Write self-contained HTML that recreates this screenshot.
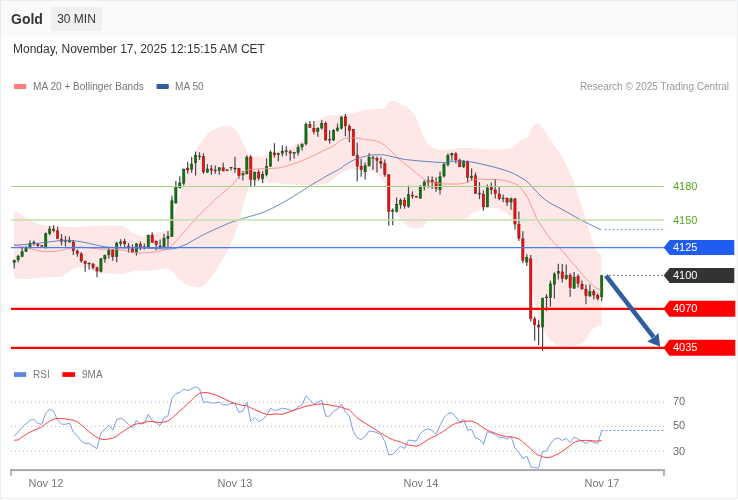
<!DOCTYPE html>
<html>
<head>
<meta charset="utf-8">
<title>Gold 30 MIN</title>
<style>
html,body{margin:0;padding:0;background:#fff;}
body{width:738px;height:500px;overflow:hidden;position:relative;font-family:"Liberation Sans",sans-serif;}
#card{position:absolute;left:0;top:0;width:736px;height:497px;border:1px solid #e9edf0;background:#fff;}
#hdr{position:absolute;left:1px;top:1px;width:736px;height:35px;background:#fafafa;}
#ttl{position:absolute;left:11px;top:10px;font-size:14px;font-weight:bold;color:#333;line-height:18px;}
#tf{position:absolute;left:51px;top:7px;width:51px;height:24px;background:#f0f0f1;border-radius:2px;font-size:12px;color:#333;line-height:24px;text-align:center;}
#dt{position:absolute;left:13px;top:42px;font-size:12px;color:#333;line-height:15px;}
svg{position:absolute;left:0;top:0;}
svg text{font-family:"Liberation Sans",sans-serif;}
</style>
</head>
<body>
<div id="card"></div>
<div id="hdr"></div>
<div id="ttl">Gold</div>
<div id="tf">30 MIN</div>
<div id="dt">Monday, November 17, 2025 12:15:15 AM CET</div>
<svg width="738" height="500" viewBox="0 0 738 500">
<polygon fill="#fee7e7" points="14,211.2 15.5,211.84 17.01,212.52 18.51,213.24 20.01,214.01 21.52,214.84 23.02,215.75 24.52,216.7 26.02,217.63 27.53,218.52 29.03,219.38 30.53,220.24 32.04,221.08 33.54,221.85 35.04,222.52 36.55,223.13 38.05,223.7 39.55,224.23 41.06,224.67 42.56,225.01 44.06,225.28 45.56,225.52 47.07,225.72 48.57,225.88 50.07,226 51.58,226.1 53.08,226.17 54.58,226.24 56.09,226.29 57.59,226.34 59.09,226.39 60.6,226.45 62.1,226.5 63.6,226.57 65.1,226.64 66.61,226.72 68.11,226.8 69.61,226.87 71.12,226.93 72.62,226.97 74.12,227 75.63,227 77.13,226.98 78.63,226.93 80.14,226.87 81.64,226.8 83.14,226.72 84.64,226.63 86.15,226.55 87.65,226.46 89.15,226.35 90.66,226.21 92.16,226.05 93.66,225.9 95.17,225.75 96.67,225.63 98.17,225.54 99.67,225.5 101.18,225.5 102.68,225.51 104.18,225.53 105.69,225.55 107.19,225.56 108.69,225.58 110.2,225.59 111.7,225.6 113.2,225.59 114.71,225.55 116.21,225.49 117.71,225.44 119.21,225.41 120.72,225.47 122.22,225.97 123.72,226.67 125.23,227.48 126.73,228.53 128.23,229.7 129.74,230.82 131.24,231.86 132.74,232.78 134.25,233.54 135.75,234.2 137.25,234.73 138.75,235.15 140.26,235.53 141.76,235.81 143.26,235.9 144.77,235.72 146.27,235.36 147.77,234.96 149.28,234.55 150.78,234.06 152.28,233.56 153.79,233.1 155.29,232.74 156.79,232.46 158.29,232.21 159.8,231.98 161.3,231.79 162.8,231.61 164.31,231.46 165.81,231.34 167.31,231.25 168.82,231.14 170.32,230.94 171.82,229.63 173.33,219.98 174.83,213.52 176.33,208.18 177.83,203.13 179.34,196.92 180.84,191.21 182.34,186.83 183.85,181.75 185.35,176.05 186.85,170.4 188.36,165.93 189.86,162.82 191.36,160.2 192.87,157.47 194.37,154.31 195.87,151.24 197.37,148.52 198.88,145.95 200.38,143.55 201.88,141.34 203.39,139.32 204.89,137.37 206.39,135.53 207.9,133.88 209.4,132.48 210.9,131.34 212.41,130.33 213.91,129.42 215.41,128.65 216.91,128.01 218.42,127.49 219.92,126.99 221.42,126.54 222.93,126.2 224.43,126.02 225.93,126.01 227.44,126.05 228.94,126.13 230.44,126.27 231.95,126.92 233.45,128.03 234.95,129.36 236.45,131.04 237.96,133.29 239.46,135.85 240.96,138.66 242.47,142.02 243.97,145.43 245.47,148.39 246.98,151.21 248.48,153.48 249.98,154.78 251.48,155.7 252.99,156.06 254.49,156.23 255.99,156.36 257.5,156.44 259,156.49 260.5,156.49 262.01,156.34 263.51,156.06 265.01,155.68 266.52,155.27 268.02,154.85 269.52,154.31 271.02,153.67 272.53,153 274.03,152.36 275.53,151.82 277.04,151.34 278.54,150.91 280.04,150.49 281.55,150.06 283.05,149.63 284.55,149.15 286.06,148.64 287.56,148.11 289.06,147.56 290.56,146.98 292.07,146.36 293.57,145.69 295.07,144.96 296.58,144.18 298.08,143.32 299.58,142.34 301.09,141.22 302.59,139.92 304.09,138.1 305.6,135.86 307.1,133.61 308.6,131.24 310.1,128.85 311.61,126.59 313.11,124.29 314.61,122.37 316.12,121.08 317.62,119.99 319.12,119.06 320.63,118.29 322.13,117.64 323.63,117.1 325.14,116.61 326.64,116.18 328.14,115.83 329.64,115.55 331.15,115.36 332.65,115.21 334.15,115.08 335.66,114.94 337.16,114.82 338.66,114.71 340.17,114.61 341.67,114.51 343.17,114.4 344.68,114.29 346.18,114.17 347.68,114.02 349.18,113.85 350.69,113.64 352.19,113.31 353.69,112.87 355.2,112.39 356.7,111.89 358.2,111.43 359.71,111.06 361.21,110.78 362.71,110.53 364.22,110.3 365.72,110.09 367.22,109.88 368.72,109.68 370.23,109.47 371.73,109.23 373.23,109 374.74,108.82 376.24,108.73 377.74,108.67 379.25,108.63 380.75,108.58 382.25,108.5 383.75,108.33 385.26,107.44 386.76,105.67 388.26,103.34 389.77,102.01 391.27,101.42 392.77,101.11 394.28,101 395.78,101.32 397.28,101.96 398.79,102.78 400.29,103.9 401.79,104.78 403.29,105.32 404.8,105.8 406.3,106.45 407.8,107.49 409.31,108.85 410.81,110.4 412.31,112.15 413.82,114.23 415.32,116.52 416.82,119.23 418.33,123.15 419.83,127.27 421.33,130.83 422.83,134.23 424.34,137.79 425.84,141.14 427.34,143.36 428.85,144.93 430.35,146.1 431.85,147.01 433.36,147.74 434.86,148.35 436.36,148.91 437.87,149.44 439.37,149.76 440.87,149.8 442.37,149.78 443.88,149.75 445.38,149.7 446.88,149.64 448.39,149.58 449.89,149.51 451.39,149.37 452.9,149.12 454.4,148.82 455.9,148.5 457.41,148.23 458.91,148.04 460.41,148 461.91,148 463.42,148 464.92,148 466.42,148 467.93,148 469.43,148 470.93,148.01 472.44,148.08 473.94,148.19 475.44,148.33 476.95,148.49 478.45,148.65 479.95,148.81 481.45,148.93 482.96,149.02 484.46,149.11 485.96,149.19 487.47,149.27 488.97,149.34 490.47,149.41 491.98,149.46 493.48,149.49 494.98,149.5 496.49,149.5 497.99,149.5 499.49,149.5 500.99,149.5 502.5,149.5 504,149.44 505.5,149.27 507.01,149.02 508.51,148.68 510.01,148.29 511.52,147.81 513.02,146.91 514.52,145.7 516.03,144.48 517.53,143.14 519.03,141.63 520.53,140.21 522.04,139.19 523.54,138.73 525.04,138.51 526.55,138.17 528.05,136.26 529.55,131.96 531.06,129.23 532.56,127.05 534.06,125.45 535.56,124.15 537.07,123.2 538.57,123.14 540.07,124.56 541.58,126.73 543.08,128.75 544.58,130.85 546.09,133.11 547.59,135.41 549.09,137.63 550.6,139.77 552.1,141.87 553.6,143.99 555.1,146.15 556.61,148.32 558.11,150.49 559.61,152.76 561.12,155.2 562.62,157.84 564.12,160.67 565.63,163.64 567.13,166.72 568.63,169.9 570.14,173.19 571.64,176.63 573.14,180.29 574.64,184.25 576.15,188.68 577.65,193.35 579.15,197.96 580.66,202.37 582.16,206.78 583.66,211.41 585.17,216.51 586.67,221.98 588.17,227.5 589.68,233 591.18,237.04 592.68,240.74 594.18,244.82 595.69,248.57 597.19,251.26 598.69,253.08 600.2,254.4 601.7,255.2 601.7,325 600.2,325.18 598.69,325.6 597.19,326.16 595.69,326.85 594.18,327.91 592.68,329.24 591.18,330.82 589.68,332.89 588.17,335.51 586.67,338.55 585.17,340.64 583.66,342.2 582.16,343.21 580.66,344 579.15,344.56 577.65,344.97 576.15,345.35 574.64,345.67 573.14,345.89 571.64,346 570.14,346 568.63,346 567.13,346 565.63,346 564.12,346 562.62,346 561.12,345.87 559.61,345.51 558.11,345 556.61,344.45 555.1,343.74 553.6,342.84 552.1,341.77 550.6,340.5 549.09,338.86 547.59,336.95 546.09,334.78 544.58,332.24 543.08,330.03 541.58,328.12 540.07,324.92 538.57,319.66 537.07,313.48 535.56,307.73 534.06,298.37 532.56,291.06 531.06,275.69 529.55,265.48 528.05,260.44 526.55,256.54 525.04,252.23 523.54,248.02 522.04,243.58 520.53,238.71 519.03,234.09 517.53,229.97 516.03,226.2 514.52,223.07 513.02,220.27 511.52,217.84 510.01,216.01 508.51,214.68 507.01,213.56 505.5,212.61 504,211.77 502.5,211 500.99,210.2 499.49,209.4 497.99,208.69 496.49,208.19 494.98,208 493.48,208.05 491.98,208.17 490.47,208.34 488.97,208.55 487.47,208.75 485.96,208.98 484.46,209.25 482.96,209.56 481.45,209.9 479.95,210.29 478.45,210.71 476.95,211.18 475.44,211.74 473.94,212.4 472.44,213.16 470.93,214.04 469.43,215.46 467.93,217.3 466.42,218.88 464.92,219.5 463.42,219.5 461.91,219.5 460.41,219.5 458.91,219.5 457.41,219.5 455.9,219.5 454.4,219.5 452.9,219.5 451.39,219.5 449.89,219.5 448.39,219.5 446.88,219.5 445.38,219.5 443.88,219.5 442.37,219.5 440.87,219.5 439.37,219.5 437.87,219.52 436.36,219.57 434.86,219.64 433.36,219.74 431.85,219.88 430.35,220.05 428.85,220.32 427.34,221.84 425.84,223.77 424.34,225.13 422.83,226.39 421.33,227.37 419.83,227.96 418.33,228.45 416.82,228.75 415.32,228.76 413.82,228.47 412.31,228 410.81,227.45 409.31,226.74 407.8,225.82 406.3,224.73 404.8,223.5 403.29,222.12 401.79,220.39 400.29,218.37 398.79,216.18 397.28,213.77 395.78,211.08 394.28,208.15 392.77,204.82 391.27,201.17 389.77,197.3 388.26,193.18 386.76,189.31 385.26,185.62 383.75,182.31 382.25,179.41 380.75,176.93 379.25,175.26 377.74,174.14 376.24,173.31 374.74,172.57 373.23,171.93 371.73,171.41 370.23,171.04 368.72,170.79 367.22,170.58 365.72,170.41 364.22,170.26 362.71,170.13 361.21,170.02 359.71,169.9 358.2,169.78 356.7,169.67 355.2,169.57 353.69,169.52 352.19,169.5 350.69,169.62 349.18,169.88 347.68,170.23 346.18,170.65 344.68,171.1 343.17,171.75 341.67,172.61 340.17,173.64 338.66,174.76 337.16,175.91 335.66,177.04 334.15,178.13 332.65,179.39 331.15,180.69 329.64,181.87 328.14,182.75 326.64,183.25 325.14,183.61 323.63,183.9 322.13,184.15 320.63,184.39 319.12,184.67 317.62,184.99 316.12,185.31 314.61,185.58 313.11,185.76 311.61,185.8 310.1,185.76 308.6,185.69 307.1,185.6 305.6,185.5 304.09,185.41 302.59,185.31 301.09,185.22 299.58,185.11 298.08,185 296.58,184.89 295.07,184.77 293.57,184.65 292.07,184.52 290.56,184.4 289.06,184.27 287.56,184.14 286.06,184 284.55,183.87 283.05,183.72 281.55,183.56 280.04,183.39 278.54,183.22 277.04,183.05 275.53,182.89 274.03,182.73 272.53,182.58 271.02,182.43 269.52,182.31 268.02,182.2 266.52,182.1 265.01,182 263.51,181.9 262.01,181.8 260.5,181.72 259,181.66 257.5,181.62 255.99,181.6 254.49,181.76 252.99,182.19 251.48,182.99 249.98,185.3 248.48,188.49 246.98,192.64 245.47,197.39 243.97,202.66 242.47,208.47 240.96,214.76 239.46,220.23 237.96,224.97 236.45,229.33 234.95,233.48 233.45,237.45 231.95,241.2 230.44,244.71 228.94,247.98 227.44,251.07 225.93,253.99 224.43,256.75 222.93,259.31 221.42,261.7 219.92,264.02 218.42,266.37 216.91,268.84 215.41,271.35 213.91,273.78 212.41,275.99 210.9,278.02 209.4,279.94 207.9,281.69 206.39,283.21 204.89,284.6 203.39,285.85 201.88,286.7 200.38,287.15 198.88,287.44 197.37,287.48 195.87,287.27 194.37,286.93 192.87,286.52 191.36,286.14 189.86,285.75 188.36,285.3 186.85,284.76 185.35,284.07 183.85,283.04 182.34,281.79 180.84,280.48 179.34,279.04 177.83,277.48 176.33,275.93 174.83,274.34 173.33,272.75 171.82,271.37 170.32,270.17 168.82,269.04 167.31,268.36 165.81,268.33 164.31,268.5 162.8,268.74 161.3,269.02 159.8,269.27 158.29,269.51 156.79,269.79 155.29,270.08 153.79,270.35 152.28,270.56 150.78,270.68 149.28,270.7 147.77,270.67 146.27,270.64 144.77,270.59 143.26,270.55 141.76,270.52 140.26,270.5 138.75,270.54 137.25,270.68 135.75,270.9 134.25,271.18 132.74,271.48 131.24,271.77 129.74,272.05 128.23,272.37 126.73,272.76 125.23,273.16 123.72,273.52 122.22,273.81 120.72,273.98 119.21,273.99 117.71,273.96 116.21,273.9 114.71,273.81 113.2,273.72 111.7,273.61 110.2,273.51 108.69,273.42 107.19,273.32 105.69,273.21 104.18,273.09 102.68,272.94 101.18,272.77 99.67,272.54 98.17,272.13 96.67,271.53 95.17,270.88 93.66,270.27 92.16,269.57 90.66,268.85 89.15,268.26 87.65,267.95 86.15,267.78 84.64,267.62 83.14,267.51 81.64,267.43 80.14,267.4 78.63,267.5 77.13,267.81 75.63,268.25 74.12,268.76 72.62,269.47 71.12,270.47 69.61,271.44 68.11,272.34 66.61,273.27 65.1,274.27 63.6,275.64 62.1,276.77 60.6,276.96 59.09,277.03 57.59,277.07 56.09,277.1 54.58,277.13 53.08,277.16 51.58,277.22 50.07,277.28 48.57,277.34 47.07,277.41 45.56,277.48 44.06,277.56 42.56,277.64 41.06,277.73 39.55,277.83 38.05,277.98 36.55,278.16 35.04,278.36 33.54,278.56 32.04,278.74 30.53,278.89 29.03,278.98 27.53,279 26.02,279 24.52,278.99 23.02,278.96 21.52,278.93 20.01,278.87 18.51,278.79 17.01,278.69 15.5,278.56 14,278.4"/>
<g id="candles">
<line x1="14.2" x2="14.2" y1="259.4" y2="268.6" stroke="#4c4848" stroke-width="1.2"/>
<rect x="13.1" y="260.4" width="2.2" height="2.3" fill="#0b7a0b" stroke="#1c4a1c" stroke-width="0.6"/>
<line x1="18.14" x2="18.14" y1="254.8" y2="262.3" stroke="#4c4848" stroke-width="1.2"/>
<rect x="17.04" y="256.6" width="2.2" height="3.2" fill="#0b7a0b" stroke="#1c4a1c" stroke-width="0.6"/>
<line x1="22.09" x2="22.09" y1="247.6" y2="257.2" stroke="#4c4848" stroke-width="1.2"/>
<rect x="20.99" y="251.7" width="2.2" height="4.7" fill="#0b7a0b" stroke="#1c4a1c" stroke-width="0.6"/>
<line x1="26.03" x2="26.03" y1="245.8" y2="251.8" stroke="#4c4848" stroke-width="1.2"/>
<rect x="24.93" y="248.4" width="2.2" height="2.9" fill="#0b7a0b" stroke="#1c4a1c" stroke-width="0.6"/>
<line x1="29.97" x2="29.97" y1="240.4" y2="248.6" stroke="#4c4848" stroke-width="1.2"/>
<rect x="28.87" y="243.6" width="2.2" height="4.1" fill="#0b7a0b" stroke="#1c4a1c" stroke-width="0.6"/>
<line x1="33.91" x2="33.91" y1="240.6" y2="245.8" stroke="#4c4848" stroke-width="1.2"/>
<rect x="32.81" y="242.2" width="2.2" height="1.2" fill="#0b7a0b" stroke="#1c4a1c" stroke-width="0.6"/>
<line x1="37.86" x2="37.86" y1="243.2" y2="247" stroke="#4c4848" stroke-width="1.2"/>
<rect x="36.76" y="244.2" width="2.2" height="1.2" fill="#f01010" stroke="#8a1212" stroke-width="0.6"/>
<line x1="41.8" x2="41.8" y1="245.2" y2="246.6" stroke="#4c4848" stroke-width="1.2"/>
<rect x="40.7" y="245.6" width="2.2" height="0.6" fill="#f01010" stroke="#8a1212" stroke-width="0.6"/>
<line x1="45.74" x2="45.74" y1="232.6" y2="248.6" stroke="#4c4848" stroke-width="1.2"/>
<rect x="44.64" y="233.8" width="2.2" height="13.9" fill="#0b7a0b" stroke="#1c4a1c" stroke-width="0.6"/>
<line x1="49.69" x2="49.69" y1="226" y2="235.6" stroke="#4c4848" stroke-width="1.2"/>
<rect x="48.59" y="229" width="2.2" height="4.6" fill="#0b7a0b" stroke="#1c4a1c" stroke-width="0.6"/>
<line x1="53.63" x2="53.63" y1="225.2" y2="232.6" stroke="#4c4848" stroke-width="1.2"/>
<rect x="52.53" y="229.2" width="2.2" height="1.2" fill="#f01010" stroke="#8a1212" stroke-width="0.6"/>
<line x1="57.57" x2="57.57" y1="226.6" y2="239" stroke="#4c4848" stroke-width="1.2"/>
<rect x="56.47" y="230.8" width="2.2" height="7.6" fill="#f01010" stroke="#8a1212" stroke-width="0.6"/>
<line x1="61.52" x2="61.52" y1="234" y2="245.4" stroke="#4c4848" stroke-width="1.2"/>
<rect x="60.42" y="239.2" width="2.2" height="2.4" fill="#f01010" stroke="#8a1212" stroke-width="0.6"/>
<line x1="65.46" x2="65.46" y1="236" y2="246.6" stroke="#4c4848" stroke-width="1.2"/>
<rect x="63.96" y="240.4" width="3" height="1.2" fill="#3c3c3c"/>
<line x1="69.4" x2="69.4" y1="236.4" y2="242.6" stroke="#4c4848" stroke-width="1.2"/>
<rect x="68.3" y="240.2" width="2.2" height="1.8" fill="#0b7a0b" stroke="#1c4a1c" stroke-width="0.6"/>
<line x1="73.34" x2="73.34" y1="240" y2="255" stroke="#4c4848" stroke-width="1.2"/>
<rect x="72.25" y="242" width="2.2" height="8.6" fill="#f01010" stroke="#8a1212" stroke-width="0.6"/>
<line x1="77.29" x2="77.29" y1="249.4" y2="256.8" stroke="#4c4848" stroke-width="1.2"/>
<rect x="76.19" y="251" width="2.2" height="2.6" fill="#f01010" stroke="#8a1212" stroke-width="0.6"/>
<line x1="81.23" x2="81.23" y1="252" y2="262.8" stroke="#4c4848" stroke-width="1.2"/>
<rect x="80.13" y="254" width="2.2" height="6.8" fill="#f01010" stroke="#8a1212" stroke-width="0.6"/>
<line x1="85.17" x2="85.17" y1="260.4" y2="271.8" stroke="#4c4848" stroke-width="1.2"/>
<rect x="84.07" y="261.6" width="2.2" height="1.9" fill="#f01010" stroke="#8a1212" stroke-width="0.6"/>
<line x1="89.12" x2="89.12" y1="262.2" y2="269.4" stroke="#4c4848" stroke-width="1.2"/>
<rect x="87.62" y="263" width="3" height="1.2" fill="#3c3c3c"/>
<line x1="93.06" x2="93.06" y1="263" y2="269.7" stroke="#4c4848" stroke-width="1.2"/>
<rect x="91.96" y="264.2" width="2.2" height="3.2" fill="#f01010" stroke="#8a1212" stroke-width="0.6"/>
<line x1="97" x2="97" y1="266.7" y2="277.2" stroke="#4c4848" stroke-width="1.2"/>
<rect x="95.9" y="267.8" width="2.2" height="3.2" fill="#f01010" stroke="#8a1212" stroke-width="0.6"/>
<line x1="100.95" x2="100.95" y1="258" y2="272.4" stroke="#4c4848" stroke-width="1.2"/>
<rect x="99.85" y="258.8" width="2.2" height="12.5" fill="#0b7a0b" stroke="#1c4a1c" stroke-width="0.6"/>
<line x1="104.89" x2="104.89" y1="254.4" y2="262.6" stroke="#4c4848" stroke-width="1.2"/>
<rect x="103.79" y="255.6" width="2.2" height="3.2" fill="#0b7a0b" stroke="#1c4a1c" stroke-width="0.6"/>
<line x1="108.83" x2="108.83" y1="247.8" y2="258.6" stroke="#4c4848" stroke-width="1.2"/>
<rect x="107.73" y="250.6" width="2.2" height="4.2" fill="#0b7a0b" stroke="#1c4a1c" stroke-width="0.6"/>
<line x1="112.78" x2="112.78" y1="249" y2="260.7" stroke="#4c4848" stroke-width="1.2"/>
<rect x="111.68" y="250" width="2.2" height="6.6" fill="#f01010" stroke="#8a1212" stroke-width="0.6"/>
<line x1="116.72" x2="116.72" y1="241.8" y2="262.2" stroke="#4c4848" stroke-width="1.2"/>
<rect x="115.62" y="243.6" width="2.2" height="13" fill="#0b7a0b" stroke="#1c4a1c" stroke-width="0.6"/>
<line x1="120.66" x2="120.66" y1="239.2" y2="246.6" stroke="#4c4848" stroke-width="1.2"/>
<rect x="119.56" y="242" width="2.2" height="1.2" fill="#0b7a0b" stroke="#1c4a1c" stroke-width="0.6"/>
<line x1="124.6" x2="124.6" y1="238.8" y2="248.4" stroke="#4c4848" stroke-width="1.2"/>
<rect x="123.5" y="241.4" width="2.2" height="2.4" fill="#f01010" stroke="#8a1212" stroke-width="0.6"/>
<line x1="128.55" x2="128.55" y1="243" y2="252.6" stroke="#4c4848" stroke-width="1.2"/>
<rect x="127.45" y="246.2" width="2.2" height="1.2" fill="#f01010" stroke="#8a1212" stroke-width="0.6"/>
<line x1="132.49" x2="132.49" y1="244.2" y2="252.6" stroke="#4c4848" stroke-width="1.2"/>
<rect x="131.39" y="249" width="2.2" height="3.1" fill="#f01010" stroke="#8a1212" stroke-width="0.6"/>
<line x1="136.43" x2="136.43" y1="243" y2="255.6" stroke="#4c4848" stroke-width="1.2"/>
<rect x="135.33" y="243.8" width="2.2" height="8.3" fill="#0b7a0b" stroke="#1c4a1c" stroke-width="0.6"/>
<line x1="140.38" x2="140.38" y1="241.5" y2="250.2" stroke="#4c4848" stroke-width="1.2"/>
<rect x="139.28" y="244.2" width="2.2" height="2.8" fill="#f01010" stroke="#8a1212" stroke-width="0.6"/>
<line x1="144.32" x2="144.32" y1="243.6" y2="249.6" stroke="#4c4848" stroke-width="1.2"/>
<rect x="142.82" y="246.5" width="3" height="1.2" fill="#3c3c3c"/>
<line x1="148.26" x2="148.26" y1="234.6" y2="247.6" stroke="#4c4848" stroke-width="1.2"/>
<rect x="147.16" y="235.4" width="2.2" height="11.6" fill="#0b7a0b" stroke="#1c4a1c" stroke-width="0.6"/>
<line x1="152.2" x2="152.2" y1="232.2" y2="242.8" stroke="#4c4848" stroke-width="1.2"/>
<rect x="151.1" y="235.2" width="2.2" height="7" fill="#f01010" stroke="#8a1212" stroke-width="0.6"/>
<line x1="156.15" x2="156.15" y1="240.6" y2="250.2" stroke="#4c4848" stroke-width="1.2"/>
<rect x="155.05" y="241.4" width="2.2" height="3.2" fill="#f01010" stroke="#8a1212" stroke-width="0.6"/>
<line x1="160.09" x2="160.09" y1="239.4" y2="249" stroke="#4c4848" stroke-width="1.2"/>
<rect x="158.59" y="245.8" width="3" height="1.2" fill="#3c3c3c"/>
<line x1="164.03" x2="164.03" y1="233.8" y2="247.8" stroke="#4c4848" stroke-width="1.2"/>
<rect x="162.93" y="238.2" width="2.2" height="8.8" fill="#0b7a0b" stroke="#1c4a1c" stroke-width="0.6"/>
<line x1="167.98" x2="167.98" y1="231" y2="248.4" stroke="#4c4848" stroke-width="1.2"/>
<rect x="166.88" y="236.4" width="2.2" height="2" fill="#0b7a0b" stroke="#1c4a1c" stroke-width="0.6"/>
<line x1="171.92" x2="171.92" y1="195.4" y2="237" stroke="#4c4848" stroke-width="1.2"/>
<rect x="170.82" y="200.7" width="2.2" height="35.7" fill="#0b7a0b" stroke="#1c4a1c" stroke-width="0.6"/>
<line x1="175.86" x2="175.86" y1="181" y2="203.8" stroke="#4c4848" stroke-width="1.2"/>
<rect x="174.76" y="186.4" width="2.2" height="16.6" fill="#0b7a0b" stroke="#1c4a1c" stroke-width="0.6"/>
<line x1="179.81" x2="179.81" y1="176.2" y2="188.5" stroke="#4c4848" stroke-width="1.2"/>
<rect x="178.71" y="182.8" width="2.2" height="5" fill="#0b7a0b" stroke="#1c4a1c" stroke-width="0.6"/>
<line x1="183.75" x2="183.75" y1="168.4" y2="185.2" stroke="#4c4848" stroke-width="1.2"/>
<rect x="182.65" y="169.2" width="2.2" height="14" fill="#0b7a0b" stroke="#1c4a1c" stroke-width="0.6"/>
<line x1="187.69" x2="187.69" y1="161.8" y2="173.8" stroke="#4c4848" stroke-width="1.2"/>
<rect x="186.59" y="168.6" width="2.2" height="1.4" fill="#f01010" stroke="#8a1212" stroke-width="0.6"/>
<line x1="191.63" x2="191.63" y1="157" y2="172.8" stroke="#4c4848" stroke-width="1.2"/>
<rect x="190.53" y="164.2" width="2.2" height="5" fill="#0b7a0b" stroke="#1c4a1c" stroke-width="0.6"/>
<line x1="195.58" x2="195.58" y1="151.6" y2="175.6" stroke="#4c4848" stroke-width="1.2"/>
<rect x="194.48" y="155.2" width="2.2" height="7.6" fill="#0b7a0b" stroke="#1c4a1c" stroke-width="0.6"/>
<line x1="199.52" x2="199.52" y1="152.2" y2="160" stroke="#4c4848" stroke-width="1.2"/>
<rect x="198.02" y="155.8" width="3" height="1.2" fill="#3c3c3c"/>
<line x1="203.46" x2="203.46" y1="153.2" y2="173.8" stroke="#4c4848" stroke-width="1.2"/>
<rect x="202.36" y="156.6" width="2.2" height="15.2" fill="#f01010" stroke="#8a1212" stroke-width="0.6"/>
<line x1="207.41" x2="207.41" y1="164.2" y2="172.8" stroke="#4c4848" stroke-width="1.2"/>
<rect x="206.31" y="169" width="2.2" height="3.2" fill="#0b7a0b" stroke="#1c4a1c" stroke-width="0.6"/>
<line x1="211.35" x2="211.35" y1="165" y2="175.1" stroke="#4c4848" stroke-width="1.2"/>
<rect x="210.25" y="168.9" width="2.2" height="1.3" fill="#f01010" stroke="#8a1212" stroke-width="0.6"/>
<line x1="215.29" x2="215.29" y1="165.6" y2="173.7" stroke="#4c4848" stroke-width="1.2"/>
<rect x="213.79" y="169.75" width="3" height="1.2" fill="#3c3c3c"/>
<line x1="219.24" x2="219.24" y1="167.2" y2="174.8" stroke="#4c4848" stroke-width="1.2"/>
<rect x="218.14" y="167.8" width="2.2" height="2.4" fill="#0b7a0b" stroke="#1c4a1c" stroke-width="0.6"/>
<line x1="223.18" x2="223.18" y1="162.4" y2="171.6" stroke="#4c4848" stroke-width="1.2"/>
<rect x="222.08" y="167.8" width="2.2" height="3" fill="#f01010" stroke="#8a1212" stroke-width="0.6"/>
<line x1="227.12" x2="227.12" y1="169.4" y2="171" stroke="#4c4848" stroke-width="1.2"/>
<rect x="226.02" y="169.8" width="2.2" height="0.8" fill="#f01010" stroke="#8a1212" stroke-width="0.6"/>
<line x1="231.06" x2="231.06" y1="167" y2="170.4" stroke="#4c4848" stroke-width="1.2"/>
<rect x="229.97" y="167.3" width="2.2" height="0.6" fill="#0b7a0b" stroke="#1c4a1c" stroke-width="0.6"/>
<line x1="235.01" x2="235.01" y1="156.8" y2="172.8" stroke="#4c4848" stroke-width="1.2"/>
<rect x="233.91" y="168.2" width="2.2" height="0.8" fill="#0b7a0b" stroke="#1c4a1c" stroke-width="0.6"/>
<line x1="238.95" x2="238.95" y1="168" y2="178.8" stroke="#4c4848" stroke-width="1.2"/>
<rect x="237.85" y="168.6" width="2.2" height="6.8" fill="#f01010" stroke="#8a1212" stroke-width="0.6"/>
<line x1="242.89" x2="242.89" y1="171" y2="180.6" stroke="#4c4848" stroke-width="1.2"/>
<rect x="241.79" y="173.6" width="2.2" height="1.4" fill="#0b7a0b" stroke="#1c4a1c" stroke-width="0.6"/>
<line x1="246.84" x2="246.84" y1="155.2" y2="174.4" stroke="#4c4848" stroke-width="1.2"/>
<rect x="245.74" y="157.2" width="2.2" height="16.6" fill="#0b7a0b" stroke="#1c4a1c" stroke-width="0.6"/>
<line x1="250.78" x2="250.78" y1="154.8" y2="187.2" stroke="#4c4848" stroke-width="1.2"/>
<rect x="249.68" y="157.2" width="2.2" height="22" fill="#f01010" stroke="#8a1212" stroke-width="0.6"/>
<line x1="254.72" x2="254.72" y1="171.6" y2="186.6" stroke="#4c4848" stroke-width="1.2"/>
<rect x="253.62" y="172.4" width="2.2" height="7" fill="#0b7a0b" stroke="#1c4a1c" stroke-width="0.6"/>
<line x1="258.67" x2="258.67" y1="169.8" y2="180.6" stroke="#4c4848" stroke-width="1.2"/>
<rect x="257.57" y="172.6" width="2.2" height="5.4" fill="#f01010" stroke="#8a1212" stroke-width="0.6"/>
<line x1="262.61" x2="262.61" y1="171" y2="183" stroke="#4c4848" stroke-width="1.2"/>
<rect x="261.51" y="174.6" width="2.2" height="4" fill="#0b7a0b" stroke="#1c4a1c" stroke-width="0.6"/>
<line x1="266.55" x2="266.55" y1="158.3" y2="176.4" stroke="#4c4848" stroke-width="1.2"/>
<rect x="265.45" y="166.5" width="2.2" height="7.8" fill="#0b7a0b" stroke="#1c4a1c" stroke-width="0.6"/>
<line x1="270.5" x2="270.5" y1="150.4" y2="166.8" stroke="#4c4848" stroke-width="1.2"/>
<rect x="269.39" y="152.2" width="2.2" height="14" fill="#0b7a0b" stroke="#1c4a1c" stroke-width="0.6"/>
<line x1="274.44" x2="274.44" y1="143.2" y2="157.6" stroke="#4c4848" stroke-width="1.2"/>
<rect x="273.34" y="153" width="2.2" height="1.8" fill="#f01010" stroke="#8a1212" stroke-width="0.6"/>
<line x1="278.38" x2="278.38" y1="152.8" y2="161.2" stroke="#4c4848" stroke-width="1.2"/>
<rect x="277.28" y="153.6" width="2.2" height="1" fill="#0b7a0b" stroke="#1c4a1c" stroke-width="0.6"/>
<line x1="282.32" x2="282.32" y1="145.2" y2="156.4" stroke="#4c4848" stroke-width="1.2"/>
<rect x="281.22" y="151.2" width="2.2" height="2" fill="#0b7a0b" stroke="#1c4a1c" stroke-width="0.6"/>
<line x1="286.27" x2="286.27" y1="146" y2="155.8" stroke="#4c4848" stroke-width="1.2"/>
<rect x="284.77" y="150.55" width="3" height="1.2" fill="#3c3c3c"/>
<line x1="290.21" x2="290.21" y1="150" y2="160.8" stroke="#4c4848" stroke-width="1.2"/>
<rect x="289.11" y="151.8" width="2.2" height="1.2" fill="#f01010" stroke="#8a1212" stroke-width="0.6"/>
<line x1="294.15" x2="294.15" y1="152" y2="158.8" stroke="#4c4848" stroke-width="1.2"/>
<rect x="293.05" y="152.4" width="2.2" height="0.8" fill="#0b7a0b" stroke="#1c4a1c" stroke-width="0.6"/>
<line x1="298.1" x2="298.1" y1="144.4" y2="155.6" stroke="#4c4848" stroke-width="1.2"/>
<rect x="297" y="147.4" width="2.2" height="5" fill="#0b7a0b" stroke="#1c4a1c" stroke-width="0.6"/>
<line x1="302.04" x2="302.04" y1="143.2" y2="150.4" stroke="#4c4848" stroke-width="1.2"/>
<rect x="300.94" y="144.2" width="2.2" height="2.8" fill="#0b7a0b" stroke="#1c4a1c" stroke-width="0.6"/>
<line x1="305.98" x2="305.98" y1="122.4" y2="145.5" stroke="#4c4848" stroke-width="1.2"/>
<rect x="304.88" y="124.2" width="2.2" height="19.6" fill="#0b7a0b" stroke="#1c4a1c" stroke-width="0.6"/>
<line x1="309.93" x2="309.93" y1="121" y2="128.1" stroke="#4c4848" stroke-width="1.2"/>
<rect x="308.82" y="124.6" width="2.2" height="2.7" fill="#f01010" stroke="#8a1212" stroke-width="0.6"/>
<line x1="313.87" x2="313.87" y1="121" y2="134.3" stroke="#4c4848" stroke-width="1.2"/>
<rect x="312.77" y="128.3" width="2.2" height="3.1" fill="#f01010" stroke="#8a1212" stroke-width="0.6"/>
<line x1="317.81" x2="317.81" y1="127.2" y2="136.8" stroke="#4c4848" stroke-width="1.2"/>
<rect x="316.71" y="128.4" width="2.2" height="3" fill="#0b7a0b" stroke="#1c4a1c" stroke-width="0.6"/>
<line x1="321.75" x2="321.75" y1="120" y2="129.6" stroke="#4c4848" stroke-width="1.2"/>
<rect x="320.65" y="123.4" width="2.2" height="4.6" fill="#0b7a0b" stroke="#1c4a1c" stroke-width="0.6"/>
<line x1="325.7" x2="325.7" y1="121.4" y2="140.6" stroke="#4c4848" stroke-width="1.2"/>
<rect x="324.6" y="123.4" width="2.2" height="16.6" fill="#f01010" stroke="#8a1212" stroke-width="0.6"/>
<line x1="329.64" x2="329.64" y1="130.2" y2="143.6" stroke="#4c4848" stroke-width="1.2"/>
<rect x="328.14" y="139.1" width="3" height="1.2" fill="#3c3c3c"/>
<line x1="333.58" x2="333.58" y1="129" y2="141" stroke="#4c4848" stroke-width="1.2"/>
<rect x="332.48" y="130.4" width="2.2" height="9.6" fill="#0b7a0b" stroke="#1c4a1c" stroke-width="0.6"/>
<line x1="337.53" x2="337.53" y1="123.4" y2="131.6" stroke="#4c4848" stroke-width="1.2"/>
<rect x="336.43" y="128" width="2.2" height="2.6" fill="#0b7a0b" stroke="#1c4a1c" stroke-width="0.6"/>
<line x1="341.47" x2="341.47" y1="116.2" y2="129.6" stroke="#4c4848" stroke-width="1.2"/>
<rect x="340.37" y="117.2" width="2.2" height="11" fill="#0b7a0b" stroke="#1c4a1c" stroke-width="0.6"/>
<line x1="345.41" x2="345.41" y1="114" y2="136.2" stroke="#4c4848" stroke-width="1.2"/>
<rect x="344.31" y="116.8" width="2.2" height="9" fill="#f01010" stroke="#8a1212" stroke-width="0.6"/>
<line x1="349.36" x2="349.36" y1="124.6" y2="142.2" stroke="#4c4848" stroke-width="1.2"/>
<rect x="348.25" y="126.2" width="2.2" height="4.2" fill="#f01010" stroke="#8a1212" stroke-width="0.6"/>
<line x1="353.3" x2="353.3" y1="129" y2="155.8" stroke="#4c4848" stroke-width="1.2"/>
<rect x="352.2" y="129.6" width="2.2" height="25.6" fill="#f01010" stroke="#8a1212" stroke-width="0.6"/>
<line x1="357.24" x2="357.24" y1="142.8" y2="181.6" stroke="#4c4848" stroke-width="1.2"/>
<rect x="356.14" y="155.6" width="2.2" height="10.5" fill="#f01010" stroke="#8a1212" stroke-width="0.6"/>
<line x1="361.18" x2="361.18" y1="159" y2="176.8" stroke="#4c4848" stroke-width="1.2"/>
<rect x="360.08" y="166.5" width="2.2" height="3.1" fill="#f01010" stroke="#8a1212" stroke-width="0.6"/>
<line x1="365.13" x2="365.13" y1="162.6" y2="179.6" stroke="#4c4848" stroke-width="1.2"/>
<rect x="364.03" y="165.8" width="2.2" height="6" fill="#0b7a0b" stroke="#1c4a1c" stroke-width="0.6"/>
<line x1="369.07" x2="369.07" y1="153" y2="166.4" stroke="#4c4848" stroke-width="1.2"/>
<rect x="367.97" y="157.4" width="2.2" height="8.4" fill="#0b7a0b" stroke="#1c4a1c" stroke-width="0.6"/>
<line x1="373.01" x2="373.01" y1="156" y2="169.8" stroke="#4c4848" stroke-width="1.2"/>
<rect x="371.51" y="157.4" width="3" height="1.2" fill="#3c3c3c"/>
<line x1="376.96" x2="376.96" y1="156.4" y2="172.4" stroke="#4c4848" stroke-width="1.2"/>
<rect x="375.86" y="158.6" width="2.2" height="1.6" fill="#f01010" stroke="#8a1212" stroke-width="0.6"/>
<line x1="380.9" x2="380.9" y1="157.2" y2="168.6" stroke="#4c4848" stroke-width="1.2"/>
<rect x="379.8" y="161.4" width="2.2" height="2" fill="#f01010" stroke="#8a1212" stroke-width="0.6"/>
<line x1="384.84" x2="384.84" y1="159.6" y2="176.8" stroke="#4c4848" stroke-width="1.2"/>
<rect x="383.74" y="163.4" width="2.2" height="11" fill="#f01010" stroke="#8a1212" stroke-width="0.6"/>
<line x1="388.78" x2="388.78" y1="174.2" y2="225.8" stroke="#4c4848" stroke-width="1.2"/>
<rect x="387.68" y="174.8" width="2.2" height="36.4" fill="#f01010" stroke="#8a1212" stroke-width="0.6"/>
<line x1="392.73" x2="392.73" y1="208.2" y2="225.2" stroke="#4c4848" stroke-width="1.2"/>
<rect x="391.63" y="210.4" width="2.2" height="0.8" fill="#0b7a0b" stroke="#1c4a1c" stroke-width="0.6"/>
<line x1="396.67" x2="396.67" y1="197.4" y2="212.6" stroke="#4c4848" stroke-width="1.2"/>
<rect x="395.57" y="204.6" width="2.2" height="6.6" fill="#0b7a0b" stroke="#1c4a1c" stroke-width="0.6"/>
<line x1="400.61" x2="400.61" y1="198.4" y2="208.8" stroke="#4c4848" stroke-width="1.2"/>
<rect x="399.51" y="200.2" width="2.2" height="4.4" fill="#0b7a0b" stroke="#1c4a1c" stroke-width="0.6"/>
<line x1="404.56" x2="404.56" y1="197.4" y2="208.6" stroke="#4c4848" stroke-width="1.2"/>
<rect x="403.46" y="200.2" width="2.2" height="5.6" fill="#f01010" stroke="#8a1212" stroke-width="0.6"/>
<line x1="408.5" x2="408.5" y1="185.6" y2="207.8" stroke="#4c4848" stroke-width="1.2"/>
<rect x="407.4" y="194.6" width="2.2" height="11.8" fill="#0b7a0b" stroke="#1c4a1c" stroke-width="0.6"/>
<line x1="412.44" x2="412.44" y1="191.4" y2="198.8" stroke="#4c4848" stroke-width="1.2"/>
<rect x="411.34" y="195.2" width="2.2" height="0.8" fill="#f01010" stroke="#8a1212" stroke-width="0.6"/>
<line x1="416.39" x2="416.39" y1="196.2" y2="197.6" stroke="#4c4848" stroke-width="1.2"/>
<rect x="415.29" y="196.6" width="2.2" height="0.6" fill="#f01010" stroke="#8a1212" stroke-width="0.6"/>
<line x1="420.33" x2="420.33" y1="185" y2="198.8" stroke="#4c4848" stroke-width="1.2"/>
<rect x="419.23" y="187" width="2.2" height="11.2" fill="#0b7a0b" stroke="#1c4a1c" stroke-width="0.6"/>
<line x1="424.27" x2="424.27" y1="180.2" y2="190.6" stroke="#4c4848" stroke-width="1.2"/>
<rect x="423.17" y="182.2" width="2.2" height="4.8" fill="#0b7a0b" stroke="#1c4a1c" stroke-width="0.6"/>
<line x1="428.21" x2="428.21" y1="176.2" y2="187.8" stroke="#4c4848" stroke-width="1.2"/>
<rect x="427.11" y="180.8" width="2.2" height="1.2" fill="#0b7a0b" stroke="#1c4a1c" stroke-width="0.6"/>
<line x1="432.16" x2="432.16" y1="176.3" y2="189" stroke="#4c4848" stroke-width="1.2"/>
<rect x="431.06" y="180.3" width="2.2" height="1.7" fill="#f01010" stroke="#8a1212" stroke-width="0.6"/>
<line x1="436.1" x2="436.1" y1="177.2" y2="191.7" stroke="#4c4848" stroke-width="1.2"/>
<rect x="435" y="182.3" width="2.2" height="5.9" fill="#f01010" stroke="#8a1212" stroke-width="0.6"/>
<line x1="440.04" x2="440.04" y1="171.6" y2="194.4" stroke="#4c4848" stroke-width="1.2"/>
<rect x="438.94" y="176.7" width="2.2" height="13" fill="#0b7a0b" stroke="#1c4a1c" stroke-width="0.6"/>
<line x1="443.99" x2="443.99" y1="163" y2="177.6" stroke="#4c4848" stroke-width="1.2"/>
<rect x="442.89" y="164.2" width="2.2" height="11.8" fill="#0b7a0b" stroke="#1c4a1c" stroke-width="0.6"/>
<line x1="447.93" x2="447.93" y1="153.4" y2="166.6" stroke="#4c4848" stroke-width="1.2"/>
<rect x="446.83" y="155.4" width="2.2" height="9.2" fill="#0b7a0b" stroke="#1c4a1c" stroke-width="0.6"/>
<line x1="451.87" x2="451.87" y1="152.8" y2="160.6" stroke="#4c4848" stroke-width="1.2"/>
<rect x="450.77" y="153.4" width="2.2" height="1.6" fill="#0b7a0b" stroke="#1c4a1c" stroke-width="0.6"/>
<line x1="455.82" x2="455.82" y1="152.2" y2="163.6" stroke="#4c4848" stroke-width="1.2"/>
<rect x="454.72" y="153.8" width="2.2" height="6" fill="#f01010" stroke="#8a1212" stroke-width="0.6"/>
<line x1="459.76" x2="459.76" y1="158.4" y2="167.2" stroke="#4c4848" stroke-width="1.2"/>
<rect x="458.66" y="160.2" width="2.2" height="6.2" fill="#f01010" stroke="#8a1212" stroke-width="0.6"/>
<line x1="463.7" x2="463.7" y1="160" y2="168" stroke="#4c4848" stroke-width="1.2"/>
<rect x="462.6" y="161.4" width="2.2" height="5.2" fill="#0b7a0b" stroke="#1c4a1c" stroke-width="0.6"/>
<line x1="467.64" x2="467.64" y1="160.6" y2="182.4" stroke="#4c4848" stroke-width="1.2"/>
<rect x="466.54" y="161.8" width="2.2" height="15.4" fill="#f01010" stroke="#8a1212" stroke-width="0.6"/>
<line x1="471.59" x2="471.59" y1="168.4" y2="180.8" stroke="#4c4848" stroke-width="1.2"/>
<rect x="470.49" y="176.2" width="2.2" height="1.6" fill="#0b7a0b" stroke="#1c4a1c" stroke-width="0.6"/>
<line x1="475.53" x2="475.53" y1="172.4" y2="194" stroke="#4c4848" stroke-width="1.2"/>
<rect x="474.43" y="175.7" width="2.2" height="17.5" fill="#f01010" stroke="#8a1212" stroke-width="0.6"/>
<line x1="479.47" x2="479.47" y1="182.1" y2="199.2" stroke="#4c4848" stroke-width="1.2"/>
<rect x="477.97" y="193.2" width="3" height="1.2" fill="#3c3c3c"/>
<line x1="483.42" x2="483.42" y1="190.3" y2="210.8" stroke="#4c4848" stroke-width="1.2"/>
<rect x="482.32" y="194.2" width="2.2" height="12.6" fill="#f01010" stroke="#8a1212" stroke-width="0.6"/>
<line x1="487.36" x2="487.36" y1="184.4" y2="207.2" stroke="#4c4848" stroke-width="1.2"/>
<rect x="486.26" y="187.9" width="2.2" height="18.9" fill="#0b7a0b" stroke="#1c4a1c" stroke-width="0.6"/>
<line x1="491.3" x2="491.3" y1="182.6" y2="194.6" stroke="#4c4848" stroke-width="1.2"/>
<rect x="490.2" y="187.6" width="2.2" height="2" fill="#f01010" stroke="#8a1212" stroke-width="0.6"/>
<line x1="495.25" x2="495.25" y1="179" y2="198.6" stroke="#4c4848" stroke-width="1.2"/>
<rect x="494.15" y="190" width="2.2" height="3.4" fill="#f01010" stroke="#8a1212" stroke-width="0.6"/>
<line x1="499.19" x2="499.19" y1="186.8" y2="200.2" stroke="#4c4848" stroke-width="1.2"/>
<rect x="498.09" y="194" width="2.2" height="4.4" fill="#f01010" stroke="#8a1212" stroke-width="0.6"/>
<line x1="503.13" x2="503.13" y1="194.6" y2="202.2" stroke="#4c4848" stroke-width="1.2"/>
<rect x="501.63" y="197.9" width="3" height="1.2" fill="#3c3c3c"/>
<line x1="507.07" x2="507.07" y1="197.4" y2="206" stroke="#4c4848" stroke-width="1.2"/>
<rect x="505.97" y="198.4" width="2.2" height="3.8" fill="#f01010" stroke="#8a1212" stroke-width="0.6"/>
<line x1="511.02" x2="511.02" y1="197.6" y2="209.7" stroke="#4c4848" stroke-width="1.2"/>
<rect x="509.92" y="198.8" width="2.2" height="3.2" fill="#0b7a0b" stroke="#1c4a1c" stroke-width="0.6"/>
<line x1="514.96" x2="514.96" y1="198.2" y2="229.6" stroke="#4c4848" stroke-width="1.2"/>
<rect x="513.86" y="198.8" width="2.2" height="25.2" fill="#f01010" stroke="#8a1212" stroke-width="0.6"/>
<line x1="518.9" x2="518.9" y1="211.5" y2="241" stroke="#4c4848" stroke-width="1.2"/>
<rect x="517.8" y="224.4" width="2.2" height="13.8" fill="#f01010" stroke="#8a1212" stroke-width="0.6"/>
<line x1="522.85" x2="522.85" y1="231.2" y2="263.3" stroke="#4c4848" stroke-width="1.2"/>
<rect x="521.75" y="238.8" width="2.2" height="21.5" fill="#f01010" stroke="#8a1212" stroke-width="0.6"/>
<line x1="526.79" x2="526.79" y1="254.2" y2="266" stroke="#4c4848" stroke-width="1.2"/>
<rect x="525.69" y="257.4" width="2.2" height="4.6" fill="#0b7a0b" stroke="#1c4a1c" stroke-width="0.6"/>
<line x1="530.73" x2="530.73" y1="255.1" y2="321.6" stroke="#4c4848" stroke-width="1.2"/>
<rect x="529.63" y="258.9" width="2.2" height="59.7" fill="#f01010" stroke="#8a1212" stroke-width="0.6"/>
<line x1="534.68" x2="534.68" y1="316.4" y2="340.8" stroke="#4c4848" stroke-width="1.2"/>
<rect x="533.58" y="319" width="2.2" height="5.4" fill="#f01010" stroke="#8a1212" stroke-width="0.6"/>
<line x1="538.62" x2="538.62" y1="320.2" y2="345.2" stroke="#4c4848" stroke-width="1.2"/>
<rect x="537.52" y="325" width="2.2" height="2" fill="#f01010" stroke="#8a1212" stroke-width="0.6"/>
<line x1="542.56" x2="542.56" y1="297.6" y2="351.2" stroke="#4c4848" stroke-width="1.2"/>
<rect x="541.46" y="298.2" width="2.2" height="28.8" fill="#0b7a0b" stroke="#1c4a1c" stroke-width="0.6"/>
<line x1="546.51" x2="546.51" y1="294.2" y2="311.2" stroke="#4c4848" stroke-width="1.2"/>
<rect x="545.01" y="296.8" width="3" height="1.2" fill="#3c3c3c"/>
<line x1="550.45" x2="550.45" y1="280.6" y2="306.7" stroke="#4c4848" stroke-width="1.2"/>
<rect x="549.35" y="283.8" width="2.2" height="13.8" fill="#0b7a0b" stroke="#1c4a1c" stroke-width="0.6"/>
<line x1="554.39" x2="554.39" y1="272.2" y2="298.6" stroke="#4c4848" stroke-width="1.2"/>
<rect x="553.29" y="274" width="2.2" height="10.4" fill="#0b7a0b" stroke="#1c4a1c" stroke-width="0.6"/>
<line x1="558.33" x2="558.33" y1="263.8" y2="279.4" stroke="#4c4848" stroke-width="1.2"/>
<rect x="557.23" y="271.6" width="2.2" height="1.6" fill="#0b7a0b" stroke="#1c4a1c" stroke-width="0.6"/>
<line x1="562.28" x2="562.28" y1="264.1" y2="282.5" stroke="#4c4848" stroke-width="1.2"/>
<rect x="561.18" y="271.9" width="2.2" height="6.3" fill="#f01010" stroke="#8a1212" stroke-width="0.6"/>
<line x1="566.22" x2="566.22" y1="264.4" y2="280.1" stroke="#4c4848" stroke-width="1.2"/>
<rect x="565.12" y="275.4" width="2.2" height="3.2" fill="#0b7a0b" stroke="#1c4a1c" stroke-width="0.6"/>
<line x1="570.16" x2="570.16" y1="273.2" y2="296.7" stroke="#4c4848" stroke-width="1.2"/>
<rect x="569.06" y="275.4" width="2.2" height="12.1" fill="#f01010" stroke="#8a1212" stroke-width="0.6"/>
<line x1="574.11" x2="574.11" y1="272" y2="289" stroke="#4c4848" stroke-width="1.2"/>
<rect x="573.01" y="277.1" width="2.2" height="11.1" fill="#0b7a0b" stroke="#1c4a1c" stroke-width="0.6"/>
<line x1="578.05" x2="578.05" y1="274.2" y2="287.6" stroke="#4c4848" stroke-width="1.2"/>
<rect x="576.95" y="276.6" width="2.2" height="6.6" fill="#f01010" stroke="#8a1212" stroke-width="0.6"/>
<line x1="581.99" x2="581.99" y1="280.4" y2="289.8" stroke="#4c4848" stroke-width="1.2"/>
<rect x="580.89" y="284.2" width="2.2" height="4.6" fill="#f01010" stroke="#8a1212" stroke-width="0.6"/>
<line x1="585.94" x2="585.94" y1="284.4" y2="304.2" stroke="#4c4848" stroke-width="1.2"/>
<rect x="584.84" y="289.2" width="2.2" height="6.4" fill="#f01010" stroke="#8a1212" stroke-width="0.6"/>
<line x1="589.88" x2="589.88" y1="284.4" y2="296.8" stroke="#4c4848" stroke-width="1.2"/>
<rect x="588.78" y="291.6" width="2.2" height="4.4" fill="#0b7a0b" stroke="#1c4a1c" stroke-width="0.6"/>
<line x1="593.82" x2="593.82" y1="289.2" y2="299.6" stroke="#4c4848" stroke-width="1.2"/>
<rect x="592.72" y="291.6" width="2.2" height="3.4" fill="#f01010" stroke="#8a1212" stroke-width="0.6"/>
<line x1="597.76" x2="597.76" y1="293.4" y2="300.6" stroke="#4c4848" stroke-width="1.2"/>
<rect x="596.66" y="295.6" width="2.2" height="2.6" fill="#f01010" stroke="#8a1212" stroke-width="0.6"/>
<line x1="601.71" x2="601.71" y1="275.2" y2="301.2" stroke="#4c4848" stroke-width="1.2"/>
<rect x="600.61" y="275.8" width="2.2" height="20.8" fill="#0b7a0b" stroke="#1c4a1c" stroke-width="0.6"/>
</g>
<polyline fill="none" stroke="#ff8585" stroke-width="0.85" stroke-linejoin="round" points="14,245 16,245.37 18.01,245.76 20.01,246.17 22.01,246.6 24.02,247.07 26.02,247.58 28.02,248.12 30.03,248.64 32.03,249.15 34.03,249.61 36.04,250.07 38.04,250.55 40.04,250.95 42.05,251.18 44.05,251.26 46.05,251.32 48.06,251.36 50.06,251.39 52.06,251.4 54.07,251.31 56.07,251.08 58.08,250.77 60.08,250.45 62.08,250.11 64.09,249.68 66.09,249.21 68.09,248.77 70.1,248.38 72.1,248.02 74.1,247.65 76.11,247.32 78.11,247.08 80.11,247 82.12,247.08 84.12,247.27 86.12,247.52 88.13,247.78 90.13,248.01 92.13,248.24 94.14,248.48 96.14,248.71 98.14,248.9 100.15,249 102.15,249.06 104.15,249.09 106.16,249.12 108.16,249.16 110.16,249.2 112.17,249.27 114.17,249.35 116.17,249.45 118.18,249.57 120.18,249.72 122.18,249.97 124.19,250.33 126.19,250.74 128.19,251.17 130.2,251.7 132.2,252.2 134.2,252.52 136.21,252.73 138.21,252.9 140.22,252.99 142.22,252.99 144.22,252.92 146.23,252.81 148.23,252.69 150.23,252.54 152.24,252.34 154.24,252.1 156.24,251.81 158.25,251.43 160.25,250.97 162.25,250.43 164.26,249.72 166.26,248.85 168.26,247.87 170.27,246.72 172.27,245.28 174.27,243.23 176.28,240.83 178.28,238.57 180.28,236.3 182.29,234.03 184.29,231.74 186.29,229.47 188.3,227.17 190.3,224.86 192.3,222.58 194.31,220.35 196.31,218.21 198.31,216.12 200.32,214.08 202.32,212.07 204.32,210.07 206.33,208.08 208.33,206.11 210.33,204.18 212.34,202.31 214.34,200.47 216.34,198.66 218.35,196.86 220.35,195.07 222.35,193.28 224.36,191.56 226.36,189.89 228.37,188.21 230.37,186.48 232.37,184.63 234.38,182.59 236.38,180.11 238.38,177.8 240.39,175.65 242.39,173.54 244.39,171.71 246.4,170.41 248.4,169.79 250.4,169.42 252.41,169.21 254.41,169.09 256.41,169.01 258.42,168.95 260.42,168.9 262.42,168.85 264.43,168.77 266.43,168.69 268.43,168.6 270.44,168.5 272.44,168.39 274.44,168.25 276.45,168.1 278.45,167.89 280.45,167.56 282.46,167.13 284.46,166.61 286.46,166.04 288.47,165.45 290.47,164.86 292.47,164.24 294.48,163.56 296.48,162.83 298.48,162.08 300.49,161.29 302.49,160.5 304.49,159.69 306.5,158.85 308.5,157.97 310.51,157.08 312.51,156.16 314.51,155.23 316.52,154.27 318.52,153.27 320.52,152.25 322.53,151.23 324.53,150.23 326.53,149.29 328.54,148.42 330.54,147.54 332.54,146.57 334.55,145.39 336.55,143.73 338.55,141.98 340.56,140.7 342.56,139.59 344.56,138.64 346.57,138.07 348.57,138 350.57,138 352.58,138 354.58,138 356.58,138.07 358.59,138.33 360.59,138.69 362.59,139.09 364.6,139.44 366.6,139.7 368.6,139.91 370.61,140.12 372.61,140.36 374.61,140.68 376.62,141.15 378.62,141.87 380.62,142.78 382.63,143.82 384.63,145.17 386.63,146.87 388.64,148.74 390.64,150.6 392.65,152.6 394.65,154.69 396.65,156.7 398.66,158.53 400.66,160.21 402.66,161.84 404.67,163.47 406.67,165.15 408.67,166.83 410.68,168.5 412.68,170.15 414.68,171.76 416.69,173.36 418.69,174.95 420.69,176.58 422.7,178.37 424.7,179.84 426.7,180.77 428.71,181.52 430.71,182.11 432.71,182.54 434.72,182.9 436.72,183.24 438.72,183.53 440.73,183.77 442.73,183.93 444.73,184 446.74,184 448.74,184 450.74,184 452.75,184 454.75,184 456.75,184 458.76,183.96 460.76,183.76 462.76,183.43 464.77,183.05 466.77,182.41 468.77,181.43 470.78,180.48 472.78,179.96 474.78,179.71 476.79,179.49 478.79,179.33 480.8,179.23 482.8,179.2 484.8,179.35 486.81,179.55 488.81,179.59 490.81,179.53 492.82,179.45 494.82,179.4 496.82,179.47 498.83,179.67 500.83,179.96 502.83,180.3 504.84,180.65 506.84,181.11 508.84,181.65 510.85,182.26 512.85,182.91 514.85,183.68 516.86,184.64 518.86,186.01 520.86,188.07 522.87,190.45 524.87,193.18 526.87,196.4 528.88,200.27 530.88,204.95 532.88,209.63 534.89,214.39 536.89,218.84 538.89,222.31 540.9,225.2 542.9,228.11 544.9,231.21 546.91,234.19 548.91,236.82 550.91,239.24 552.92,241.51 554.92,243.67 556.92,245.67 558.93,247.53 560.93,249.41 562.94,251.47 564.94,253.79 566.94,256.25 568.95,258.73 570.95,261.12 572.95,263.46 574.96,265.79 576.96,268.12 578.96,270.48 580.97,272.87 582.97,275.23 584.97,277.47 586.98,279.62 588.98,281.7 590.98,283.65 592.99,285.42 594.99,287.2 596.99,288.55 599,289.2 601,289.5"/>
<polyline fill="none" stroke="#5075b5" stroke-width="0.9" stroke-linejoin="round" points="14,245.2 16,245.08 18.01,244.96 20.01,244.82 22.02,244.67 24.02,244.52 26.03,244.36 28.03,244.2 30.03,244.02 32.04,243.83 34.04,243.63 36.05,243.42 38.05,243.21 40.06,242.99 42.06,242.77 44.06,242.55 46.07,242.31 48.07,242.07 50.08,241.83 52.08,241.59 54.09,241.31 56.09,241.02 58.09,240.76 60.1,240.59 62.1,240.5 64.11,240.43 66.11,240.4 68.12,240.43 70.12,240.51 72.12,240.61 74.13,240.77 76.13,241.02 78.14,241.31 80.14,241.62 82.15,241.96 84.15,242.35 86.15,242.77 88.16,243.2 90.16,243.63 92.17,244.08 94.17,244.54 96.17,245 98.18,245.44 100.18,245.89 102.19,246.33 104.19,246.69 106.2,246.94 108.2,247.14 110.2,247.31 112.21,247.45 114.21,247.56 116.22,247.65 118.22,247.72 120.23,247.78 122.23,247.84 124.23,247.89 126.24,247.93 128.24,247.97 130.25,248 132.25,248.04 134.26,248.06 136.26,248.08 138.26,248.1 140.27,248.13 142.27,248.15 144.28,248.19 146.28,248.23 148.29,248.3 150.29,248.39 152.29,248.48 154.3,248.58 156.3,248.68 158.31,248.76 160.31,248.82 162.32,248.89 164.32,248.95 166.32,248.99 168.33,249 170.33,248.93 172.34,248.77 174.34,248.55 176.35,248.05 178.35,247.35 180.35,246.67 182.36,245.93 184.36,245.12 186.37,244.23 188.37,243.18 190.38,242.01 192.38,240.81 194.38,239.68 196.39,238.58 198.39,237.48 200.4,236.4 202.4,235.34 204.41,234.3 206.41,233.3 208.41,232.34 210.42,231.41 212.42,230.48 214.43,229.56 216.43,228.65 218.44,227.75 220.44,226.87 222.44,226.01 224.45,225.15 226.45,224.29 228.46,223.44 230.46,222.63 232.47,221.86 234.47,221.14 236.47,220.47 238.48,219.84 240.48,219.23 242.49,218.64 244.49,218.05 246.49,217.45 248.5,216.85 250.5,216.25 252.51,215.67 254.51,215.11 256.52,214.54 258.52,213.95 260.52,213.31 262.53,212.61 264.53,211.82 266.54,210.96 268.54,210.05 270.55,209.1 272.55,208.12 274.55,207.12 276.56,206.09 278.56,205.01 280.57,203.9 282.57,202.77 284.58,201.62 286.58,200.47 288.58,199.3 290.59,198.12 292.59,196.92 294.6,195.7 296.6,194.47 298.61,193.22 300.61,191.93 302.61,190.61 304.62,189.28 306.62,187.96 308.63,186.66 310.63,185.41 312.64,184.19 314.64,182.99 316.64,181.81 318.65,180.64 320.65,179.48 322.66,178.34 324.66,177.19 326.67,176.06 328.67,174.93 330.67,173.82 332.68,172.72 334.68,171.64 336.69,170.61 338.69,169.56 340.7,168.35 342.7,166.85 344.7,165.3 346.71,163.95 348.71,162.75 350.72,161.65 352.72,160.65 354.73,159.72 356.73,158.88 358.73,158.15 360.74,157.5 362.74,156.93 364.75,156.41 366.75,155.91 368.76,155.49 370.76,155.21 372.76,154.98 374.77,154.83 376.77,154.8 378.78,154.8 380.78,154.8 382.78,154.82 384.79,155.03 386.79,155.38 388.8,155.76 390.8,156.3 392.81,156.89 394.81,157.38 396.81,157.79 398.82,158.17 400.82,158.57 402.83,159.01 404.83,159.42 406.84,159.7 408.84,159.91 410.84,160.09 412.85,160.29 414.85,160.49 416.86,160.7 418.86,160.9 420.87,161.07 422.87,161.23 424.87,161.37 426.88,161.52 428.88,161.67 430.89,161.84 432.89,162.01 434.9,162.16 436.9,162.29 438.9,162.41 440.91,162.52 442.91,162.59 444.92,162.55 446.92,162.21 448.93,161.74 450.93,161.41 452.93,161.24 454.94,161.1 456.94,161.01 458.95,161.01 460.95,161.07 462.96,161.18 464.96,161.3 466.96,161.46 468.97,161.68 470.97,161.93 472.98,162.24 474.98,162.6 476.99,163.01 478.99,163.48 480.99,163.96 483,164.43 485,164.89 487.01,165.36 489.01,165.85 491.02,166.35 493.02,166.85 495.02,167.37 497.03,167.91 499.03,168.47 501.04,169.05 503.04,169.64 505.05,170.26 507.05,170.92 509.05,171.64 511.06,172.43 513.06,173.33 515.07,174.31 517.07,175.36 519.08,176.47 521.08,177.63 523.08,178.84 525.09,180.17 527.09,181.67 529.1,183.47 531.1,185.63 533.1,187.93 535.11,190.11 537.11,192.21 539.12,194.3 541.12,196.27 543.13,198.02 545.13,199.62 547.13,201.1 549.14,202.46 551.14,203.68 553.15,204.78 555.15,205.8 557.16,206.79 559.16,207.81 561.16,208.88 563.17,209.97 565.17,211.06 567.18,212.17 569.18,213.29 571.19,214.43 573.19,215.59 575.19,216.77 577.2,217.94 579.2,219.07 581.21,220.14 583.21,221.17 585.22,222.17 587.22,223.16 589.22,224.13 591.23,225.09 593.23,226.06 595.24,226.99 597.24,227.89 599.25,228.72 601.25,229.5"/>
<line x1="605.7" x2="663.5" y1="229.5" y2="229.5" stroke="#5a82cc" stroke-width="1.5" stroke-linecap="round" stroke-dasharray="0.01,4"/>
<line x1="11" x2="664" y1="186.5" y2="186.5" stroke="#a6d388" stroke-width="1"/>
<line x1="11" x2="664" y1="220" y2="220" stroke="#c3e0ad" stroke-width="1.6"/>
<line x1="11" x2="666" y1="247.55" y2="247.55" stroke="#4a7cf8" stroke-width="1.15"/>
<line x1="610" x2="663.5" y1="275.5" y2="275.5" stroke="#555" stroke-width="1.4" stroke-linecap="round" stroke-dasharray="0.01,4"/>
<line x1="11" x2="666" y1="308.8" y2="308.8" stroke="#ff0000" stroke-width="2.2"/>
<line x1="11" x2="666" y1="347.8" y2="347.8" stroke="#ff0000" stroke-width="2.2"/>
<text x="673" y="189.6" font-size="11" fill="#55a61e">4180</text>
<text x="673" y="224" font-size="11" fill="#55a61e">4150</text>
<polygon fill="#1f5df2" points="663.7,247.5 669.7,240 734.3,240 734.3,255 669.7,255"/>
<text x="673" y="250.9" font-size="11" fill="#fff">4125</text>
<polygon fill="#333333" points="663.7,275.5 669.7,268 734.3,268 734.3,283 669.7,283"/>
<text x="673" y="278.9" font-size="11" fill="#fff">4100</text>
<polygon fill="#ff0000" points="663.4,308.7 669.4,300.7 735.3,300.7 735.3,316.7 669.4,316.7"/>
<text x="673" y="312.1" font-size="11" fill="#fff">4070</text>
<polygon fill="#ff0000" points="663.4,347.8 669.4,339.8 735.3,339.8 735.3,355.8 669.4,355.8"/>
<text x="673" y="351.2" font-size="11" fill="#fff">4035</text>
<line x1="605.9" y1="275.6" x2="653.6" y2="337.2" stroke="#2f5d9f" stroke-width="4.6"/>
<polygon fill="#2f5d9f" points="660.2,346.8 647.2,341.5 653.6,337.4 658.5,333"/>
<rect x="14" y="84" width="12.3" height="5" rx="1" fill="#ff7d7d"/>
<text x="33" y="90" font-size="10.1" fill="#77787d">MA 20 + Bollinger Bands</text>
<rect x="156.5" y="84" width="12.3" height="5" rx="1" fill="#2f5d9f"/>
<text x="175" y="90" font-size="10.1" fill="#77787d">MA 50</text>
<text x="729" y="90" font-size="10" fill="#999" text-anchor="end">Research © 2025 Trading Central</text>
<rect x="14" y="372.2" width="12.2" height="4.7" fill="#5b82e0"/>
<text x="33" y="378" font-size="10" fill="#77787d">RSI</text>
<rect x="62.4" y="372.2" width="12.7" height="4.7" fill="#ff0000"/>
<text x="82" y="378" font-size="10" fill="#77787d">9MA</text>
<line x1="11" x2="664" y1="402.2" y2="402.2" stroke="#bbb" stroke-width="1" stroke-dasharray="1,3"/>
<line x1="11" x2="664" y1="426.4" y2="426.4" stroke="#bbb" stroke-width="1" stroke-dasharray="1,3"/>
<line x1="11" x2="664" y1="451" y2="451" stroke="#bbb" stroke-width="1" stroke-dasharray="1,3"/>
<polyline fill="none" stroke="#7d9de8" stroke-width="1" stroke-linejoin="round" points="14.2,436.2 18.14,432 22.09,427.2 26.03,424 29.97,420.2 33.91,419.6 37.86,423.4 41.8,424.4 45.74,413 49.69,409.2 53.63,411.5 57.57,420.2 61.52,424 65.46,424.4 69.4,422.9 73.34,432 77.29,435.8 81.23,441.1 85.17,443.4 89.12,443.4 93.06,446.2 97,448.7 100.95,433 104.89,429.1 108.83,425 112.78,430.1 116.72,419.6 120.66,418.1 124.6,420.2 128.55,424.8 132.49,427.8 136.43,420.6 140.38,424 144.32,423.4 148.26,414.5 152.2,420.6 156.15,422.9 160.09,425.7 164.03,417.7 167.98,415.8 171.92,398.2 175.86,393.6 179.81,392.5 183.75,389.2 187.69,390.6 191.63,388.7 195.58,386.8 199.52,388.7 203.46,402.5 207.41,401.6 211.35,403.1 215.29,402.9 219.24,402.2 223.18,405 227.12,404.8 231.06,403.5 235.01,403.5 238.95,412.4 242.89,411.1 246.84,402.2 250.78,421.2 254.72,417.2 258.67,421.5 262.61,419.6 266.55,415.3 270.5,408.2 274.44,410.5 278.38,409.8 282.32,408.2 286.27,408.8 290.21,410.1 294.15,410.5 298.1,406.9 302.04,405 305.98,395.9 309.93,399.7 313.87,404.4 317.81,402.2 321.75,400.3 325.7,416.2 329.64,416.2 333.58,411.1 337.53,409.2 341.47,404.1 345.41,412 349.36,416.4 353.3,431.6 357.24,437.7 361.18,439.6 365.13,436.7 369.07,431 373.01,431.4 376.96,432.6 380.9,434.5 384.84,441.5 388.78,454.8 392.73,454.4 396.67,450 400.61,446.2 404.56,448.5 408.5,440 412.44,440.5 416.39,441.1 420.33,433.5 424.27,430.1 428.21,428.8 432.16,430.5 436.1,434.3 440.04,425.3 443.99,417.7 447.93,413.6 451.87,412.6 455.82,417.2 459.76,422.1 463.7,419.3 467.64,430.1 471.59,429.5 475.53,438.1 479.47,439.2 483.42,444.3 487.36,431.6 491.3,432.9 495.25,434.8 499.19,437.3 503.13,437.3 507.07,439.2 511.02,436.4 514.96,447.8 518.9,452.5 522.85,458.6 526.79,456.1 530.73,466.8 534.68,467.7 538.62,468.1 542.56,451.6 546.51,451 550.45,443.8 554.39,439.2 558.33,438.1 562.28,440.5 566.22,438.6 570.16,442.4 574.11,437.1 578.05,439 581.99,441.1 585.94,443.4 589.88,441.1 593.82,442.4 597.76,443.4 601.71,430.5"/>
<line x1="601.5" x2="664.5" y1="430.5" y2="430.5" stroke="#6f93ea" stroke-width="1" stroke-dasharray="2,2"/>
<polyline fill="none" stroke="#ff4040" stroke-width="1" stroke-linejoin="round" points="14.2,440.2 18,440 22.4,436.7 26.6,434.3 30.4,432 33.8,430.3 37.6,428.8 41.4,427.2 45.6,424 49.8,421.2 53.6,419.1 57,418.5 61.2,418.5 65.5,418.9 69.3,419.5 73.1,420.2 76.9,421.5 81.3,424.8 85.1,428.2 88.9,431.6 93.1,434.8 96.9,437.3 100.7,439 104.5,439.6 108.7,439 112.7,438.3 116.5,436.2 120.1,433.5 124.4,430.5 128.8,427.8 132.28,425.34 136.27,424.01 140.07,423.44 144.06,422.49 148.05,421.16 152.04,421.54 155.84,422.11 159.83,422.49 163.81,422.11 167.8,420.97 171.79,418.31 175.59,414.89 179.58,411.09 183.57,407.67 187.56,404.07 191.36,400.08 195.35,396.28 199.34,393.43 203.33,392.48 207.13,392.67 211.12,393.62 215.11,394.95 219.1,396.28 222.9,398.18 226.88,400.08 230.87,401.98 234.86,403.5 238.66,404.45 242.65,405.4 246.64,405.78 250.63,407.67 254.43,409.57 258.42,411.09 262.47,412.99 266.27,414.32 270.26,414.51 274.25,414.13 278.24,413.94 282.04,414.51 286.03,412.99 290.02,411.66 294,410.14 297.99,408.81 301.79,407.67 305.78,406.34 309.77,405.4 313.76,404.83 317.56,404.26 321.55,403.88 325.54,404.45 329.53,405.02 333.33,405.78 337.32,406.34 341.31,407.29 345.3,408.62 349.1,409.76 353.09,413.56 357.07,417.74 361.06,420.59 364.86,422.87 368.85,425.34 372.84,427.81 376.83,430.47 380.63,432.94 384.62,435.41 388.61,437.69 392.47,439.59 396.46,440.92 400.45,441.87 404.44,443.77 408.24,444.91 412.23,445.67 416.22,446.24 420.21,444.91 424,442.44 427.99,439.59 431.98,437.31 435.97,435.79 439.77,433.51 443.76,431.04 447.75,428.19 451.74,425.34 455.54,423.44 459.53,422.49 463.52,421.54 467.51,421.16 471.31,420.97 475.3,422.49 479.29,424.77 483.28,427.81 487.07,430.09 491.06,431.61 495.05,433.13 499.04,434.84 502.84,435.79 506.83,436.74 510.82,436.74 514.81,437.69 518.61,438.64 522.66,441.87 526.65,445.29 530.45,448.71 534.44,452.51 538.43,455.17 542.42,456.69 546.22,457.64 550.21,457.26 554.19,455.74 558.18,453.84 561.98,451.56 565.97,448.71 569.96,445.67 573.95,442.44 577.75,441.11 581.74,440.54 585.73,440.35 589.72,440.54 593.71,440.92 597.51,441.11 601.5,440.54"/>
<text x="673" y="405.4" font-size="11" fill="#6a6a70">70</text>
<text x="673" y="429.4" font-size="11" fill="#6a6a70">50</text>
<text x="673" y="455" font-size="11" fill="#6a6a70">30</text>
<rect x="10.2" y="469.1" width="654.6" height="2" fill="#a9a9a9"/>
<rect x="10.2" y="469" width="1.7" height="6.7" fill="#a9a9a9"/>
<rect x="663.1" y="469" width="1.7" height="6.7" fill="#a9a9a9"/>
<text x="46" y="487" font-size="11" fill="#78787f" text-anchor="middle">Nov 12</text>
<text x="235" y="487" font-size="11" fill="#78787f" text-anchor="middle">Nov 13</text>
<text x="421" y="487" font-size="11" fill="#78787f" text-anchor="middle">Nov 14</text>
<text x="602" y="487" font-size="11" fill="#78787f" text-anchor="middle">Nov 17</text>
</svg>
</body>
</html>
